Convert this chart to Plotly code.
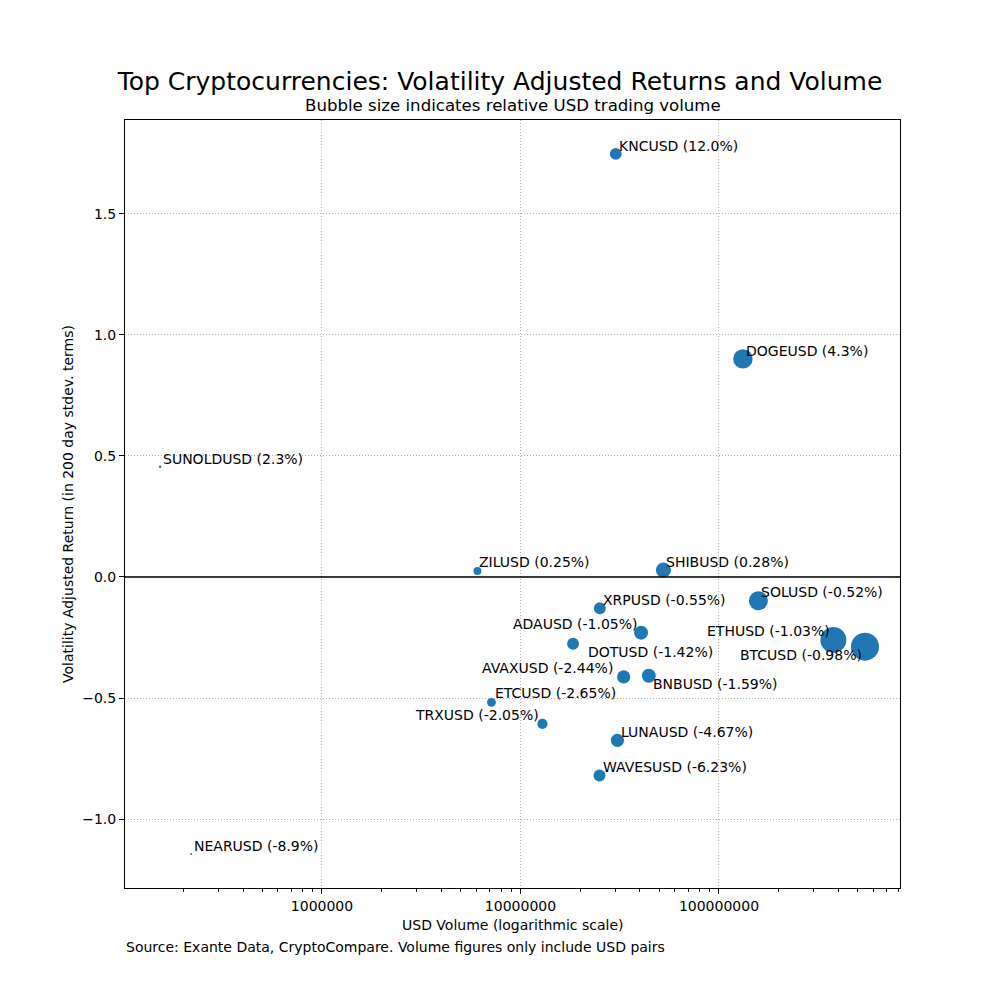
import plotly.graph_objects as go
import numpy as np

# ---- data ----
symbols = ["KNCUSD", "DOGEUSD", "SUNOLDUSD", "ZILUSD", "SHIBUSD", "XRPUSD", "SOLUSD",
           "ADAUSD", "ETHUSD", "DOTUSD", "BTCUSD", "AVAXUSD", "BNBUSD", "ETCUSD",
           "TRXUSD", "LUNAUSD", "WAVESUSD", "NEARUSD"]
pct_change = ["12.0%", "4.3%", "2.3%", "0.25%", "0.28%", "-0.55%", "-0.52%",
              "-1.05%", "-1.03%", "-1.42%", "-0.98%", "-2.44%", "-1.59%", "-2.65%",
              "-2.05%", "-4.67%", "-6.23%", "-8.9%"]
usd_volume = [3.02e7, 1.32e8, 1.53e5, 6.07e6, 5.25e7, 2.51e7, 1.58e8,
              4.05e7, 3.77e8, 1.84e7, 5.44e8, 3.31e7, 4.43e7, 7.14e6,
              1.29e7, 3.08e7, 2.50e7, 2.19e5]
vol_adj_return = [1.748, 0.901, 0.455, 0.025, 0.029, -0.129, -0.098,
                  -0.230, -0.260, -0.276, -0.288, -0.413, -0.408, -0.518,
                  -0.607, -0.675, -0.820, -1.145]
relative_volume = [18, 48, 0.8, 8, 29, 18, 46,
                   25, 86, 18, 100, 22, 25, 10,
                   13, 22, 18, 0.5]

# label placement (pixel offsets from each bubble, anchor side)
label_dx = [2, 2, 2, 1, 2, 2, 2, -2, -2, 14, -2, -10, 3, 3, -2, 3, 3, 2]
label_dy = [8, 8, 8, 9, 8, 8, 9, 9, 9, -8, -8, 9, -8, 9, 9, 8, 8, 8]
label_side = ["left", "left", "left", "left", "left", "left", "left",
              "right", "right", "left", "right", "right", "left", "left",
              "right", "left", "left", "left"]

FONT = "DejaVu Sans"
C0 = "#1f77b4"
FS = 14

# bubble area proportional to relative volume (largest bubble ~28 px across)
diam = np.sqrt(np.array(relative_volume) / max(relative_volume)) * 28
diam = np.maximum(diam, 2)

fig = go.Figure()
fig.add_trace(go.Scatter(
    x=usd_volume, y=vol_adj_return, mode="markers",
    marker=dict(size=diam, sizemode="diameter", color=C0, line=dict(width=0), opacity=1),
    hoverinfo="skip", showlegend=False,
))

annotations = []
for s, p, xv, yv, dx, dy, side in zip(symbols, pct_change, usd_volume, vol_adj_return,
                                      label_dx, label_dy, label_side):
    annotations.append(dict(
        x=np.log10(xv), y=yv, xref="x", yref="y", text=f"{s} ({p})",
        showarrow=False, xanchor=side, yanchor="middle", xshift=dx, yshift=dy,
        borderpad=0,
        font=dict(family=FONT, size=FS, color="black"),
    ))

annotations.append(dict(
    x=0.5, y=1 + 14 / 768, xref="paper", yref="paper",
    text="Bubble size indicates relative USD trading volume", showarrow=False,
    xanchor="center", yanchor="middle", font=dict(family=FONT, size=16.6, color="black")))
annotations.append(dict(
    x=0, y=-59 / 768, xref="paper", yref="paper",
    text="Source: Exante Data, CryptoCompare. Volume figures only include USD pairs",
    showarrow=False, xanchor="left", yanchor="middle", borderpad=0,
    font=dict(family=FONT, size=FS, color="black")))
annotations.append(dict(
    x=0.5, y=-37 / 768, xref="paper", yref="paper",
    text="USD Volume (logarithmic scale)", showarrow=False,
    xanchor="center", yanchor="middle", font=dict(family=FONT, size=FS, color="black")))
annotations.append(dict(
    x=-57 / 775, y=0.5, xref="paper", yref="paper", textangle=-90,
    text="Volatility Adjusted Return (in 200 day stdev. terms)", showarrow=False,
    xanchor="center", yanchor="middle", font=dict(family=FONT, size=FS, color="black")))

fig.update_layout(
    width=1000, height=1000,
    margin=dict(l=125, r=100, t=120, b=112),
    paper_bgcolor="white", plot_bgcolor="white",
    title=dict(text="Top Cryptocurrencies: Volatility Adjusted Returns and Volume",
               x=0.5, xanchor="center", y=1 - 81 / 1000, yanchor="middle",
               yref="container", font=dict(family=FONT, size=25, color="black")),
    annotations=annotations,
    shapes=[dict(type="line", xref="paper", yref="y", x0=0, x1=1, y0=0, y1=0,
                 line=dict(color="black", width=1.5), layer="above")],
    font=dict(family=FONT, size=FS, color="black"),
)

GRID = dict(showgrid=True, gridcolor="#b0b0b0", griddash="1px,2px", gridwidth=0.8)

fig.update_xaxes(
    type="log", range=[5.0076, 8.912],
    tickvals=[1e6, 1e7, 1e8], ticktext=["1000000", "10000000", "100000000"],
    ticks="outside", ticklen=5, tickwidth=1, tickcolor="black",
    showline=True, linecolor="black", linewidth=1, mirror=True,
    zeroline=False,
    minor=dict(ticks="outside", ticklen=3, tickwidth=0.6, tickcolor="black",
               dtick="D1", showgrid=False),
    tickfont=dict(family=FONT, size=FS, color="black"),
    **GRID,
)
fig.update_yaxes(
    range=[-1.285, 1.888],
    tickvals=[-1.0, -0.5, 0.0, 0.5, 1.0, 1.5],
    ticktext=["\u22121.0", "\u22120.5", "0.0", "0.5", "1.0", "1.5"],
    ticks="outside", ticklen=5, tickwidth=1, tickcolor="black",
    showline=True, linecolor="black", linewidth=1, mirror=True,
    zeroline=False,
    tickfont=dict(family=FONT, size=FS, color="black"),
    **GRID,
)

fig.write_html("out.html")
